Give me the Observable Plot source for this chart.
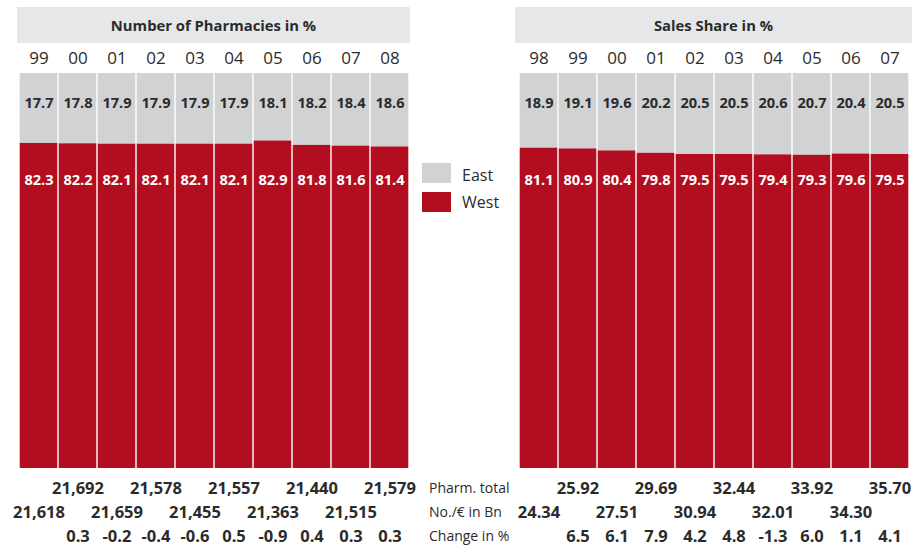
<!DOCTYPE html>
<html><head><meta charset="utf-8">
<script src="https://cdn.jsdelivr.net/npm/d3@7"></script>
<script src="https://cdn.jsdelivr.net/npm/@observablehq/plot@0.6"></script>
<style>
body{margin:0;background:#fff;font-family:"Open Sans",sans-serif;color:#2b2b2b;}
#wrap{position:relative;width:917px;height:546px;overflow:hidden;}
.band{position:absolute;background:#e6e7e9;height:36px;top:7px;display:flex;align-items:center;justify-content:center;font-weight:700;font-size:14.8px;color:#2b2b2b;}
.abs{position:absolute;}
.sw{position:absolute;width:29px;height:20px;}
.lg{position:absolute;font-size:16px;line-height:20px;color:#2b2b2b;}
.rl{position:absolute;left:429px;font-size:14px;line-height:20px;color:#2b2b2b;}
</style></head>
<body><div id="wrap">
<div class="band" style="left:17px;width:393px">Number of Pharmacies in %</div>
<div class="band" style="left:515px;width:397px">Sales Share in %</div>
<div class="sw" style="left:422px;top:163px;background:#d1d2d4"></div>
<div class="sw" style="left:422px;top:192px;background:#b20e1f"></div>
<div class="lg" style="left:462px;top:165px">East</div>
<div class="lg" style="left:462px;top:192px">West</div>
<div class="rl" style="top:478px">Pharm. total</div>
<div class="rl" style="top:502px">No./€ in Bn</div>
<div class="rl" style="top:526px">Change in %</div>
<div id="left" class="abs" style="left:0;top:43px"></div>
<div id="right" class="abs" style="left:500px;top:43px"></div>
</div>
<script>
const leftYears = ["99","00","01","02","03","04","05","06","07","08"];
const leftWest = [82.3,82.2,82.1,82.1,82.1,82.1,82.9,81.8,81.6,81.4];
const leftEast = [17.7,17.8,17.9,17.9,17.9,17.9,18.1,18.2,18.4,18.6];
const leftTotal = ["21,618","21,692","21,659","21,578","21,455","21,557","21,363","21,440","21,515","21,579"];
const leftChange = [null,0.3,-0.2,-0.4,-0.6,0.5,-0.9,0.4,0.3,0.3];

const rightYears = ["98","99","00","01","02","03","04","05","06","07"];
const rightWest = [81.1,80.9,80.4,79.8,79.5,79.5,79.4,79.3,79.6,79.5];
const rightEast = [18.9,19.1,19.6,20.2,20.5,20.5,20.6,20.7,20.4,20.5];
const rightTotal = ["24.34","25.92","27.51","29.69","30.94","32.44","32.01","33.92","34.30","35.70"];
const rightChange = [null,6.5,6.1,7.9,4.2,4.8,-1.3,6.0,1.1,4.1];

const RED = "#b20e1f", GREY = "#d1d2d4", INK = "#2b2b2b";

function panel(years, west, east, total, change, width, marginRight) {
  const data = years.map((y, i) => ({year: y, west: west[i], east: east[i], total: total[i], row: i % 2 === 1 ? 1 : 2, change: change[i]}));
  const bold = {fontWeight: 700, fill: INK, lineAnchor: "middle"};
  return Plot.plot({
    width, height: 503, marginLeft: 17, marginRight, marginTop: 30, marginBottom: 78,
    x: {domain: years, padding: 0, axis: null},
    y: {domain: [0, 100], axis: null},
    style: {fontFamily: "'Open Sans', sans-serif", background: "transparent", overflow: "visible"},
    marks: [
      Plot.barY(data, {x: "year", y1: "west", y2: 100, fill: GREY, insetLeft: 0.7, insetRight: 0.7}),
      Plot.barY(data, {x: "year", y1: 0, y2: "west", fill: RED, insetLeft: 0.7, insetRight: 0.7}),
      Plot.text(data, {x: "year", text: "year", frameAnchor: "top", dy: -15, fontSize: 17, fill: INK, lineAnchor: "middle"}),
      Plot.text(data, {x: "year", text: d => d.east.toFixed(1), frameAnchor: "top", dy: 30, fontSize: 14.6, ...bold}),
      Plot.text(data, {x: "year", text: d => d.west.toFixed(1), frameAnchor: "top", dy: 107, fontSize: 14.6, ...bold, fill: "white"}),
      Plot.text(data.filter(d => d.row === 1), {x: "year", text: "total", frameAnchor: "bottom", dy: 20, fontSize: 16.5, ...bold}),
      Plot.text(data.filter(d => d.row === 2), {x: "year", text: "total", frameAnchor: "bottom", dy: 44, fontSize: 16.5, ...bold}),
      Plot.text(data.filter(d => d.change != null), {x: "year", text: d => d.change.toFixed(1), frameAnchor: "bottom", dy: 68, fontSize: 16.5, ...bold})
    ]
  });
}
document.getElementById("left").append(panel(leftYears, leftWest, leftEast, leftTotal, leftChange, 420, 10));
document.getElementById("right").append(panel(rightYears, rightWest, rightEast, rightTotal, rightChange, 417, 6));
</script>
</body></html>
